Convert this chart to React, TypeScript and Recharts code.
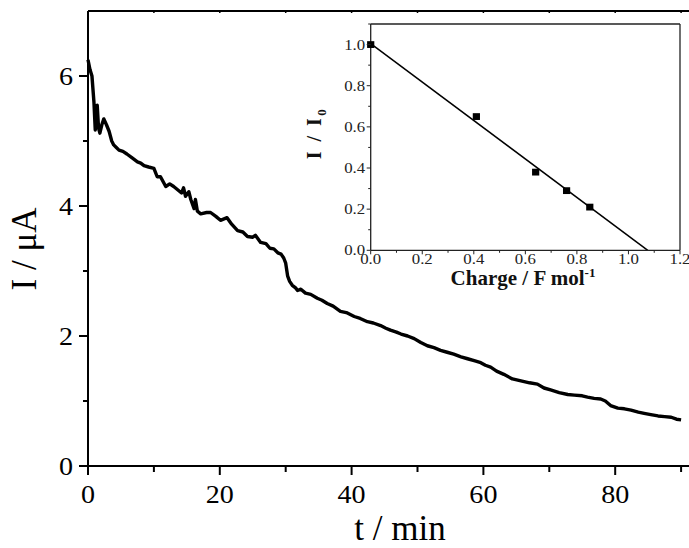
import React from 'react';
import { ComposedChart, Line, XAxis, YAxis, Scatter } from 'recharts';

const timeMin = [
  0, 0.3, 0.6, 0.9, 1.1, 1.4, 1.6, 1.8, 2.1, 2.4, 2.8, 3.2, 3.6, 3.9, 4.3, 4.7, 5.3, 5.9, 6.7, 7.5,
  8.0, 8.5, 9.2, 10.0, 10.5, 11.0, 11.8, 12.4, 13.0, 13.6, 14.2, 14.5, 14.8, 15.3, 15.6, 16.1, 16.3, 16.6, 17.1, 18.0,
  18.6, 19.4, 20.1, 21.1, 21.8, 22.7, 23.5, 24.2, 25.0, 25.4, 26.2, 27.0, 27.6, 28.2, 28.8, 29.3, 29.7, 30.0, 30.3, 30.6,
  31.0, 31.5, 31.8, 32.3, 33.0, 33.8, 34.8, 35.5, 36.3, 37.2, 38.3, 39.2, 40.4, 41.3, 42.4, 43.3, 44.4, 45.2, 45.9, 46.8,
  47.5, 48.5, 49.5, 50.5, 51.5, 52.5, 53.5, 54.5, 55.5, 56.6, 57.6, 58.6, 59.6, 60.3, 61.1, 62.0, 63.1, 64.4, 65.7, 67.0,
  68.2, 69.2, 70.2, 71.5, 72.8, 73.8, 75.0, 75.8, 76.8, 77.8, 78.5, 79.3, 80.4, 81.4, 82.4, 83.5, 84.4, 85.4, 86.5, 87.5,
  88.5, 89.3, 90.0,
];
const currentUA = [
  6.25, 6.1, 6.0, 5.6, 5.17, 5.55, 5.2, 5.12, 5.25, 5.34, 5.25, 5.15, 5.0, 4.94, 4.9, 4.86, 4.84, 4.8, 4.74, 4.68,
  4.66, 4.62, 4.6, 4.58, 4.45, 4.45, 4.3, 4.34, 4.3, 4.25, 4.2, 4.28, 4.15, 4.22, 4.1, 3.96, 4.1, 3.92, 3.88, 3.9,
  3.9, 3.84, 3.78, 3.82, 3.72, 3.62, 3.6, 3.53, 3.52, 3.55, 3.44, 3.42, 3.35, 3.34, 3.28, 3.26, 3.2, 3.12, 2.92, 2.84,
  2.78, 2.74, 2.7, 2.72, 2.66, 2.64, 2.58, 2.55, 2.5, 2.46, 2.38, 2.36, 2.3, 2.27, 2.22, 2.2, 2.16, 2.12, 2.09, 2.06,
  2.03, 2.0, 1.96, 1.9, 1.85, 1.82, 1.78, 1.75, 1.72, 1.68, 1.65, 1.62, 1.59, 1.55, 1.52, 1.46, 1.41, 1.34, 1.31, 1.28,
  1.26, 1.2, 1.17, 1.13, 1.1, 1.09, 1.08, 1.06, 1.04, 1.03, 1.0, 0.93, 0.89, 0.88, 0.86, 0.83, 0.81, 0.79, 0.77, 0.76,
  0.75, 0.72, 0.71,
];

const mainXTicks = [0, 10, 20, 30, 40, 50, 60, 70, 80, 90];
const mainXMajor = [0, 20, 40, 60, 80];
const mainYTicks = [0, 1, 2, 3, 4, 5, 6];
const mainYMajor = [0, 2, 4, 6];

const chargeF = [0, 0.41, 0.64, 0.76, 0.85];
const ratioI = [1.0, 0.65, 0.38, 0.29, 0.21];
const fitCharge = [0, 1.075];
const fitRatio = [1.005, 0];
const insetXTicks = [0, 0.1, 0.2, 0.3, 0.4, 0.5, 0.6, 0.7, 0.8, 0.9, 1.0, 1.1, 1.2];
const insetXMajor = [0, 0.2, 0.4, 0.6, 0.8, 1.0, 1.2];
const insetYTicks = [0, 0.1, 0.2, 0.3, 0.4, 0.5, 0.6, 0.7, 0.8, 0.9, 1.0, 1.1];
const insetYMajor = [0, 0.2, 0.4, 0.6, 0.8, 1.0];

const FONT = '"Liberation Serif", "Times New Roman", serif';

const mainData = timeMin.map((t, i) => ({ t, I: currentUA[i] }));
const pointData = chargeF.map((x, i) => ({ x, y: ratioI[i] }));
const fitData = fitCharge.map((x, i) => ({ x, y: fitRatio[i] }));

const isIn = (arr: number[], v: number) => arr.some((a) => Math.abs(a - v) < 1e-6);

const MainBottomTick = (props: any) => {
  const { x, y, payload } = props;
  const v = payload.value;
  const major = isIn(mainXMajor, v);
  return (
    <g>
      <line x1={x} x2={x} y1={y} y2={y + (major ? 9 : 6)} stroke="#000" strokeWidth={2} />
      {major && (
        <text
          transform={`translate(${x} ${y + 37}) scale(1.08 1)`}
          textAnchor="middle"
          fontFamily={FONT}
          fontSize={26}
          fill="#000"
        >
          {v}
        </text>
      )}
    </g>
  );
};

const MainTopTick = (props: any) => {
  const { x, y } = props;
  return <line x1={x} x2={x} y1={y} y2={y + 2} stroke="#000" strokeWidth={1.5} />;
};

const MainLeftTick = (props: any) => {
  const { x, y, payload } = props;
  const v = payload.value;
  const major = isIn(mainYMajor, v);
  return (
    <g>
      <line x1={x - (major ? 9 : 5)} x2={x} y1={y} y2={y} stroke="#000" strokeWidth={2} />
      {major && (
        <text
          transform={`translate(${x - 15} ${y + 9}) scale(1.08 1)`}
          textAnchor="end"
          fontFamily={FONT}
          fontSize={26}
          fill="#000"
        >
          {v}
        </text>
      )}
    </g>
  );
};

const InsetBottomTick = (props: any) => {
  const { x, y, payload } = props;
  const v = payload.value;
  const major = isIn(insetXMajor, v);
  return (
    <g>
      <line x1={x} x2={x} y1={y} y2={y + (major ? 4 : 2.5)} stroke="#222" strokeWidth={1} />
      {major && (
        <text
          transform={`translate(${x} ${y + 14}) scale(1.12 1)`}
          textAnchor="middle"
          fontFamily={FONT}
          fontSize={15}
          fill="#222"
        >
          {v.toFixed(1)}
        </text>
      )}
    </g>
  );
};

const InsetTopTick = (props: any) => {
  const { x, y, payload } = props;
  const major = isIn(insetXMajor, payload.value);
  return <line x1={x} x2={x} y1={y} y2={y - (major ? 3 : 2)} stroke="#222" strokeWidth={1} />;
};

const InsetLeftTick = (props: any) => {
  const { x, y, payload } = props;
  const v = payload.value;
  const major = isIn(insetYMajor, v);
  return (
    <g>
      <line x1={x - (major ? 4 : 2.5)} x2={x} y1={y} y2={y} stroke="#222" strokeWidth={1} />
      {major && (
        <text
          transform={`translate(${x - 5.5} ${y + 5}) scale(1.12 1)`}
          textAnchor="end"
          fontFamily={FONT}
          fontSize={15}
          fill="#222"
        >
          {v.toFixed(1)}
        </text>
      )}
    </g>
  );
};

const InsetRightTick = (props: any) => {
  const { x, y, payload } = props;
  const major = isIn(insetYMajor, payload.value);
  return <line x1={x} x2={x + (major ? 3 : 2)} y1={y} y2={y} stroke="#222" strokeWidth={1} />;
};

const Square = (props: any) => {
  const { cx, cy } = props;
  return <rect x={cx - 3.6} y={cy - 3.4} width={7.2} height={6.8} fill="#000" />;
};

const MainXLabel = () => (
  <text x={400} y={540} textAnchor="middle" fontFamily={FONT} fontSize={35} fill="#000">
    t / min
  </text>
);

const MainYLabel = () => (
  <text
    x={36}
    y={249}
    transform="rotate(-90, 36, 249)"
    textAnchor="middle"
    fontFamily={FONT}
    fontSize={35}
    fill="#000"
  >
    I / μA
  </text>
);

const InsetXLabel = () => (
  <text x={223} y={285} textAnchor="middle" fontFamily={FONT} fontSize={21} fontWeight="bold" fill="#111">
    Charge / F mol
    <tspan fontSize={13} dy={-8}>-1</tspan>
  </text>
);

const InsetYLabel = () => (
  <text
    x={21}
    y={133}
    transform="rotate(-90, 21, 133)"
    textAnchor="middle"
    fontFamily={FONT}
    fontSize={20}
    fontWeight="bold"
    fill="#111"
    letterSpacing={2.5}
  >
    I / I
    <tspan fontSize={13} dy={5}>0</tspan>
  </text>
);

export default function App() {
  return (
    <div style={{ position: 'absolute', left: 0, top: 0, width: 689, height: 548, background: '#fff' }}>
      <div style={{ position: 'absolute', left: 0, top: 0 }}>
        <ComposedChart width={689} height={548} data={mainData} margin={{ top: 10, right: 0, bottom: 0, left: 28 }}>
          <XAxis
            dataKey="t"
            type="number"
            domain={[0, 91.2]}
            ticks={mainXTicks}
            interval={0}
            height={82}
            tickSize={0}
            tickMargin={0}
            tickLine={false}
            axisLine={{ stroke: '#000', strokeWidth: 2 }}
            tick={<MainBottomTick />}
            label={{ content: () => <MainXLabel /> }}
          />
          <XAxis
            xAxisId="top"
            orientation="top"
            dataKey="t"
            type="number"
            domain={[0, 91.2]}
            ticks={mainXTicks}
            interval={0}
            height={1}
            tickSize={0}
            tickMargin={0}
            tickLine={false}
            axisLine={{ stroke: '#000', strokeWidth: 2 }}
            tick={<MainTopTick />}
          />
          <YAxis
            type="number"
            domain={[0, 7]}
            ticks={mainYTicks}
            interval={0}
            width={60}
            tickSize={0}
            tickMargin={0}
            tickLine={false}
            axisLine={{ stroke: '#000', strokeWidth: 2 }}
            tick={<MainLeftTick />}
            label={{ content: () => <MainYLabel /> }}
          />
          <Line
            dataKey="I"
            type="linear"
            stroke="#000"
            strokeWidth={3.4}
            strokeLinejoin="round"
            dot={false}
            activeDot={false}
            isAnimationActive={false}
          />
        </ComposedChart>
      </div>
      <div style={{ position: 'absolute', left: 300, top: 0 }}>
        <ComposedChart width={389} height={300} margin={{ top: 23, right: 8, bottom: 0, left: 20.7 }}>
          <XAxis
            dataKey="x"
            type="number"
            domain={[0, 1.2]}
            ticks={insetXTicks}
            interval={0}
            height={49.7}
            tickSize={0}
            tickMargin={0}
            tickLine={false}
            axisLine={{ stroke: '#222', strokeWidth: 1.3 }}
            tick={<InsetBottomTick />}
            label={{ content: () => <InsetXLabel /> }}
          />
          <XAxis
            xAxisId="top"
            orientation="top"
            dataKey="x"
            type="number"
            domain={[0, 1.2]}
            ticks={insetXTicks}
            interval={0}
            height={1}
            tickSize={0}
            tickMargin={0}
            tickLine={false}
            axisLine={{ stroke: '#222', strokeWidth: 1.3 }}
            tick={<InsetTopTick />}
          />
          <YAxis
            dataKey="y"
            type="number"
            domain={[0, 1.1]}
            ticks={insetYTicks}
            interval={0}
            width={50}
            tickSize={0}
            tickMargin={0}
            tickLine={false}
            axisLine={{ stroke: '#222', strokeWidth: 1.3 }}
            tick={<InsetLeftTick />}
            label={{ content: () => <InsetYLabel /> }}
          />
          <YAxis
            yAxisId="right"
            orientation="right"
            dataKey="y"
            type="number"
            domain={[0, 1.1]}
            ticks={insetYTicks}
            interval={0}
            width={1}
            tickSize={0}
            tickMargin={0}
            tickLine={false}
            axisLine={{ stroke: '#222', strokeWidth: 1.3 }}
            tick={<InsetRightTick />}
          />
          <Line
            data={fitData}
            dataKey="y"
            type="linear"
            stroke="#000"
            strokeWidth={1.5}
            dot={false}
            activeDot={false}
            isAnimationActive={false}
          />
          <Scatter data={pointData} dataKey="y" shape={<Square />} isAnimationActive={false} />
        </ComposedChart>
      </div>
    </div>
  );
}
